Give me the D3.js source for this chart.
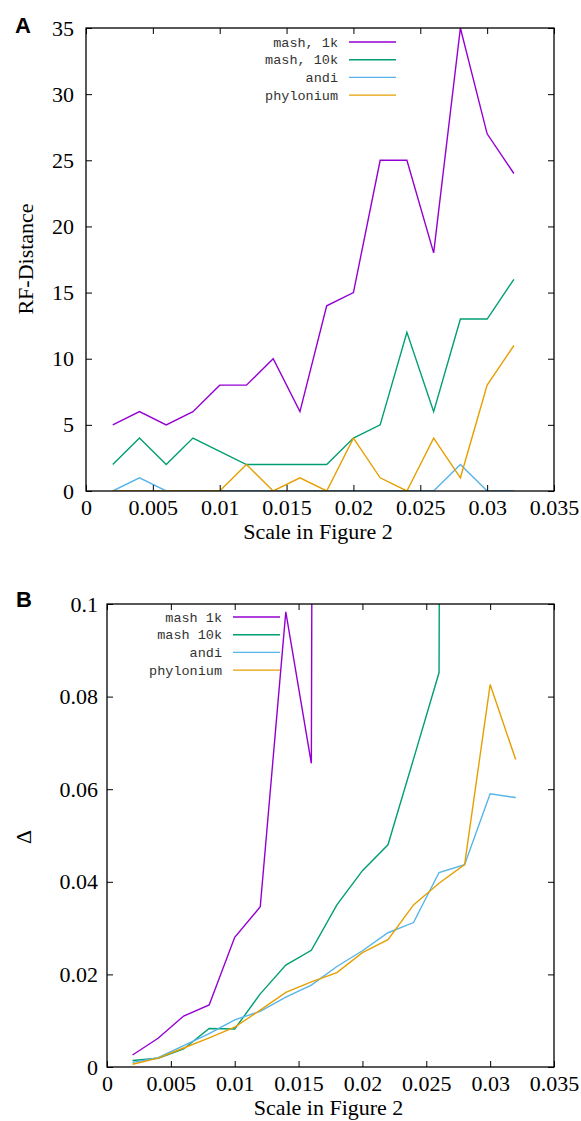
<!DOCTYPE html>
<html>
<head>
<meta charset="utf-8">
<script src="https://cdn.jsdelivr.net/npm/d3@7"></script>
<style>
  body { margin: 0; background: #fff; }
  svg { display: block; }
</style>
</head>
<body>
<svg id="chart" width="581" height="1121"></svg>
<script>
// ---------------------------------------------------------------------------
// Data
// ---------------------------------------------------------------------------
var scales = [0.002, 0.004, 0.006, 0.008, 0.010, 0.012, 0.014, 0.016,
              0.018, 0.020, 0.022, 0.024, 0.026, 0.028, 0.030, 0.032];

// Panel A: RF-distance
var rfMash1k  = [5, 6, 5, 6, 8, 8, 10, 6, 14, 15, 25, 25, 18, 35, 27, 24];
var rfMash10k = [2, 4, 2, 4, 3, 2, 2, 2, 2, 4, 5, 12, 6, 13, 13, 16];
var rfAndi    = [0, 1, 0, 0, 0, 0, 0, 0, 0, 0, 0, 0, 0, 2, 0, 0];
var rfPhyl    = [0, 0, 0, 0, 0, 2, 0, 1, 0, 4, 1, 0, 4, 1, 8, 11];

// Panel B: Delta (values above 0.1 run off the top of the plot)
var dMash1k  = [0.0026, 0.0062, 0.0110, 0.0134, 0.0280, 0.0346, 0.0983, 0.0656,
                2.0, 2.2, 2.4, 2.5, 2.6, 2.7, 2.8, 2.9];
var dMash10k = [0.0014, 0.0019, 0.0039, 0.0083, 0.0082, 0.0158, 0.0220, 0.0252,
                0.0350, 0.0424, 0.0480, 0.0665, 0.0852, 2.0, 2.2, 2.4];
var dAndi    = [0.0010, 0.0020, 0.0046, 0.0072, 0.0102, 0.0120, 0.0151, 0.0177,
                0.0217, 0.0251, 0.0290, 0.0312, 0.0420, 0.0437, 0.0590, 0.0582];
var dPhyl    = [0.0006, 0.0019, 0.0041, 0.0063, 0.0086, 0.0123, 0.0161, 0.0184,
                0.0204, 0.0247, 0.0275, 0.0350, 0.0397, 0.0437, 0.0826, 0.0664];

var xTicks  = [0, 0.005, 0.01, 0.015, 0.02, 0.025, 0.03, 0.035];
var yTicksA = [0, 5, 10, 15, 20, 25, 30, 35];
var yTicksB = [0, 0.02, 0.04, 0.06, 0.08, 0.1];

var namesA = ["mash, 1k", "mash, 10k", "andi", "phylonium"];
var namesB = ["mash 1k", "mash 10k", "andi", "phylonium"];
var colors = ["#9400d3", "#009e73", "#56b4e9", "#e69f00"];

// ---------------------------------------------------------------------------
// Drawing
// ---------------------------------------------------------------------------
var svg = d3.select("#chart");
var serif = "'Liberation Serif', 'DejaVu Serif', serif";
var mono = "'Liberation Mono', 'DejaVu Sans Mono', monospace";

function drawPanel(cfg) {
    var x = d3.scaleLinear().domain([0, 0.035]).range([cfg.left, cfg.right]);
    var y = d3.scaleLinear().domain(cfg.yDomain).range([cfg.bottom, cfg.top]);
    var g = svg.append("g");

    // clip for lines running off the plot
    var clipId = "clip-" + cfg.letter;
    svg.append("clipPath").attr("id", clipId).append("rect")
        .attr("x", cfg.left).attr("y", cfg.top)
        .attr("width", cfg.right - cfg.left).attr("height", cfg.bottom - cfg.top);

    // lines
    var line = d3.line().x(function(d) { return x(d[0]); }).y(function(d) { return y(d[1]); });
    var plot = g.append("g").attr("clip-path", "url(#" + clipId + ")");
    cfg.series.forEach(function(s, i) {
        plot.append("path")
            .datum(scales.map(function(v, j) { return [v, s[j]]; }))
            .attr("d", line)
            .attr("fill", "none")
            .attr("stroke", colors[i])
            .attr("stroke-width", 1.4)
            .attr("stroke-linejoin", "miter");
    });

    // axes: ticks pointing inward, mirrored on top and right
    var tick = 6;
    var fmt = function(d) { return d3.format("~g")(d); };
    var bottomAxis = g.append("g").attr("transform", "translate(0," + cfg.bottom + ")")
        .call(d3.axisBottom(x).tickValues(xTicks).tickSize(-tick).tickPadding(8).tickFormat(fmt));
    var topAxis = g.append("g").attr("transform", "translate(0," + cfg.top + ")")
        .call(d3.axisTop(x).tickValues(xTicks).tickSize(-tick).tickFormat(""));
    var leftAxis = g.append("g").attr("transform", "translate(" + cfg.left + ",0)")
        .call(d3.axisLeft(y).tickValues(cfg.yTicks).tickSize(-tick).tickPadding(cfg.yPad).tickFormat(fmt));
    var rightAxis = g.append("g").attr("transform", "translate(" + cfg.right + ",0)")
        .call(d3.axisRight(y).tickValues(cfg.yTicks).tickSize(-tick).tickFormat(""));

    [bottomAxis, topAxis, leftAxis, rightAxis].forEach(function(a) {
        a.select(".domain").remove();
        a.selectAll("line").attr("stroke", "#000").attr("stroke-width", 1);
        a.selectAll("text").attr("font-family", serif).attr("font-size", 22).attr("fill", "#000");
    });

    // frame
    g.append("rect")
        .attr("x", cfg.left).attr("y", cfg.top)
        .attr("width", cfg.right - cfg.left).attr("height", cfg.bottom - cfg.top)
        .attr("fill", "none").attr("stroke", "#000").attr("stroke-width", 1.3);

    // legend
    cfg.names.forEach(function(name, i) {
        var ly = cfg.legendY + i * cfg.legendStep;
        g.append("text")
            .attr("x", cfg.legendTextX).attr("y", ly)
            .attr("dy", "0.35em")
            .attr("text-anchor", "end")
            .attr("font-family", mono)
            .attr("font-size", 13.5)
            .attr("fill", "#333")
            .text(name);
        g.append("line")
            .attr("x1", cfg.legendTextX + 11).attr("x2", cfg.legendTextX + 58)
            .attr("y1", ly).attr("y2", ly)
            .attr("stroke", colors[i]).attr("stroke-width", 1.4);
    });

    // axis titles
    g.append("text")
        .attr("x", (cfg.left + cfg.right) / 2 - 2).attr("y", cfg.bottom + 48)
        .attr("text-anchor", "middle")
        .attr("font-family", serif).attr("font-size", 22)
        .text("Scale in Figure 2");
    g.append("text")
        .attr("transform", "translate(" + cfg.yTitleX + "," + cfg.yTitleY + ") rotate(-90)")
        .attr("text-anchor", "middle")
        .attr("font-family", serif).attr("font-size", 22)
        .text(cfg.yTitle);

    // panel letter
    g.append("text")
        .attr("x", cfg.letterX).attr("y", cfg.letterY)
        .attr("font-family", "'Liberation Sans', Arial, sans-serif")
        .attr("font-weight", "bold").attr("font-size", 22)
        .text(cfg.letter);
}

drawPanel({
    letter: "A", letterX: 15, letterY: 33,
    left: 86, right: 554, top: 28, bottom: 491,
    yDomain: [0, 35], yTicks: yTicksA, yPad: 12,
    series: [rfMash1k, rfMash10k, rfAndi, rfPhyl],
    names: namesA,
    legendTextX: 338, legendY: 42, legendStep: 17.7,
    yTitle: "RF-Distance", yTitleX: 33, yTitleY: 259
});

drawPanel({
    letter: "B", letterX: 16, letterY: 607,
    left: 107, right: 554, top: 604, bottom: 1067,
    yDomain: [0, 0.1], yTicks: yTicksB, yPad: 9,
    series: [dMash1k, dMash10k, dAndi, dPhyl],
    names: namesB,
    legendTextX: 222, legendY: 617, legendStep: 17.7,
    yTitle: "\u0394", yTitleX: 31, yTitleY: 837
});
</script>
</body>
</html>
